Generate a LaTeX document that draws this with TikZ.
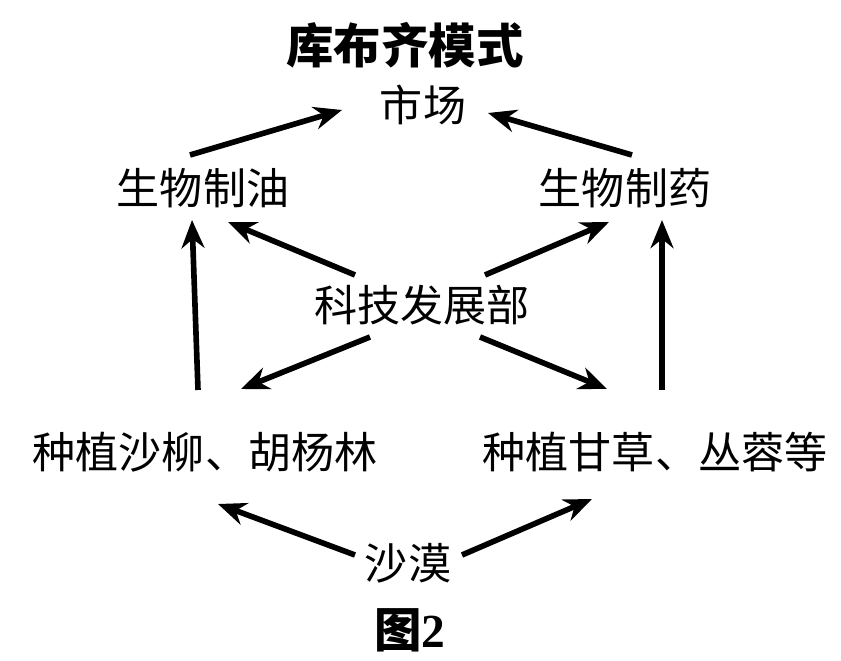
\documentclass[tikz,border=0pt]{standalone}
\usepackage{fontspec}
\setmainfont{Liberation Serif}
\newfontfamily\cjk{Noto Sans CJK SC}
\usetikzlibrary{arrows.meta}
\begin{document}
\begin{tikzpicture}[x=0.02cm,y=-0.02cm,
  lbl/.style={font=\cjk\fontsize{24.5}{28}\selectfont, inner sep=0pt},
  ttl/.style={font=\cjk\bfseries\fontsize{27}{30}\selectfont, inner sep=0pt},
  arr/.style={line width=3.2pt,-{Stealth[length=16pt,width=13pt]}}]
\useasboundingbox (0,0) rectangle (841,661);
\node[ttl] (title) at (405,45) {库布齐模式};
\node[lbl] (mkt) at (423,105) {市场};
\node[lbl] (oil) at (203,188) {生物制油};
\node[lbl] (med) at (625,188) {生物制药};
\node[lbl] (tech) at (422,305) {科技发展部};
\node[lbl] (left) at (205,452) {种植沙柳、胡杨林};
\node[lbl] (right) at (655,452) {种植甘草、丛蓉等};
\node[lbl] (sand) at (408,563) {沙漠};
\node[inner sep=0pt] (fig) at (410,630) {\cjk\bfseries\fontsize{27}{30}\selectfont 图\textrm{\bfseries 2}};
\coordinate (a1s) at (190,155); \coordinate (a1e) at (342,110);
\coordinate (a2s) at (632,155); \coordinate (a2e) at (488,113);
\coordinate (a3s) at (355,275); \coordinate (a3e) at (228,222);
\coordinate (a4s) at (485,275); \coordinate (a4e) at (609,222);
\coordinate (a5s) at (198,390); \coordinate (a5e) at (192,220);
\coordinate (a6s) at (662,390); \coordinate (a6e) at (662,220);
\coordinate (a7s) at (370,337); \coordinate (a7e) at (241,389);
\coordinate (a8s) at (480,337); \coordinate (a8e) at (607,389);
\coordinate (a9s) at (355,555); \coordinate (a9e) at (218,504);
\coordinate (a10s) at (462,555); \coordinate (a10e) at (592,499);
\draw[arr] (a1s) -- (a1e);
\draw[arr] (a2s) -- (a2e);
\draw[arr] (a3s) -- (a3e);
\draw[arr] (a4s) -- (a4e);
\draw[arr] (a5s) -- (a5e);
\draw[arr] (a6s) -- (a6e);
\draw[arr] (a7s) -- (a7e);
\draw[arr] (a8s) -- (a8e);
\draw[arr] (a9s) -- (a9e);
\draw[arr] (a10s) -- (a10e);
\end{tikzpicture}
\end{document}
